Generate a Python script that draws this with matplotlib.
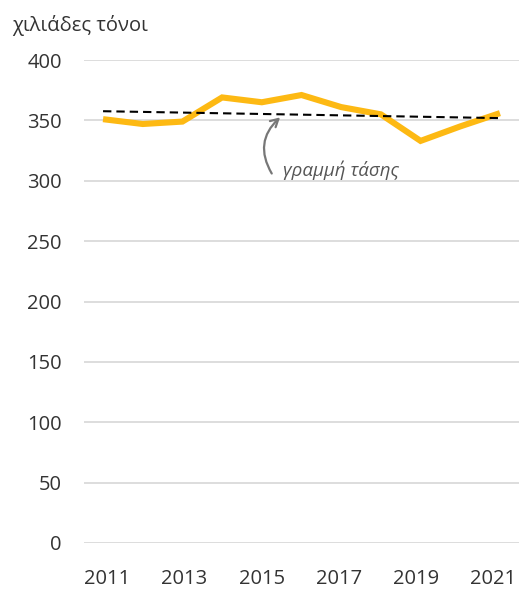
import numpy as np
import matplotlib
matplotlib.use("Agg")
import matplotlib.pyplot as plt

years = [2011, 2012, 2013, 2014, 2015, 2016, 2017, 2018, 2019, 2020, 2021]
tonnes = [351, 347, 349, 369, 365, 371, 361, 355, 333, 345, 356]
xticks = [2011, 2013, 2015, 2017, 2019, 2021]
yticks = [0, 50, 100, 150, 200, 250, 300, 350, 400]

ylabel = "χιλιάδες τόνοι"
trend_label = "γραμμή τάσης"

plt.rcParams["font.family"] = ["Open Sans", "DejaVu Sans"]
TEXT = "#333333"


def main():
    fig = plt.figure(figsize=(5.19, 5.89), dpi=100)
    ax = fig.add_axes([84 / 519, 1 - 543 / 589, 1 - 84 / 519, (543 - 60) / 589])

    ax.set_ylim(0, 400)
    ax.set_xlim(2010.52, 2021.48)
    ax.set_yticks(yticks)
    # year labels sit on a slightly tighter band than the line points
    ax.set_xticks([2011.11 + (y - 2011) * 0.971 for y in xticks])
    ax.set_xticklabels([str(y) for y in xticks])
    ax.grid(axis="y", color="#dddddd", linewidth=1.4)
    ax.set_axisbelow(True)
    for s in ax.spines.values():
        s.set_visible(False)
    ax.tick_params(length=0, labelsize=14.5, colors=TEXT)
    ax.tick_params(axis="y", pad=16)
    ax.tick_params(axis="x", pad=19)

    ax.plot(years, tonnes, color="#fdb913", linewidth=4.4, solid_joinstyle="miter",
            solid_capstyle="butt", zorder=3)

    # linear trend of the series
    k, b = np.polyfit(years, tonnes, 1)
    yrs = np.array([years[0], years[-1]])
    ax.plot(yrs, k * yrs + b, color="black", linestyle=(0, (4, 2.4)),
            linewidth=1.5, zorder=4)

    ax.annotate("", xy=(2015.46, 352.5), xytext=(2015.25, 306),
                arrowprops=dict(arrowstyle="->,head_length=0.55,head_width=0.3",
                                color="#777777", lw=1.6,
                                connectionstyle="arc3,rad=-0.4",
                                shrinkA=0, shrinkB=0))
    ax.text(2015.53, 309, trend_label, style="italic", fontsize=13.5,
            color="#555555", va="center", ha="left")

    fig.text(12 / 519, 1 - 25 / 589, ylabel, fontsize=14.5, color=TEXT,
             ha="left", va="center")

    fig.savefig("out.png", dpi=100)
    plt.close(fig)


if __name__ == "__main__":
    main()
